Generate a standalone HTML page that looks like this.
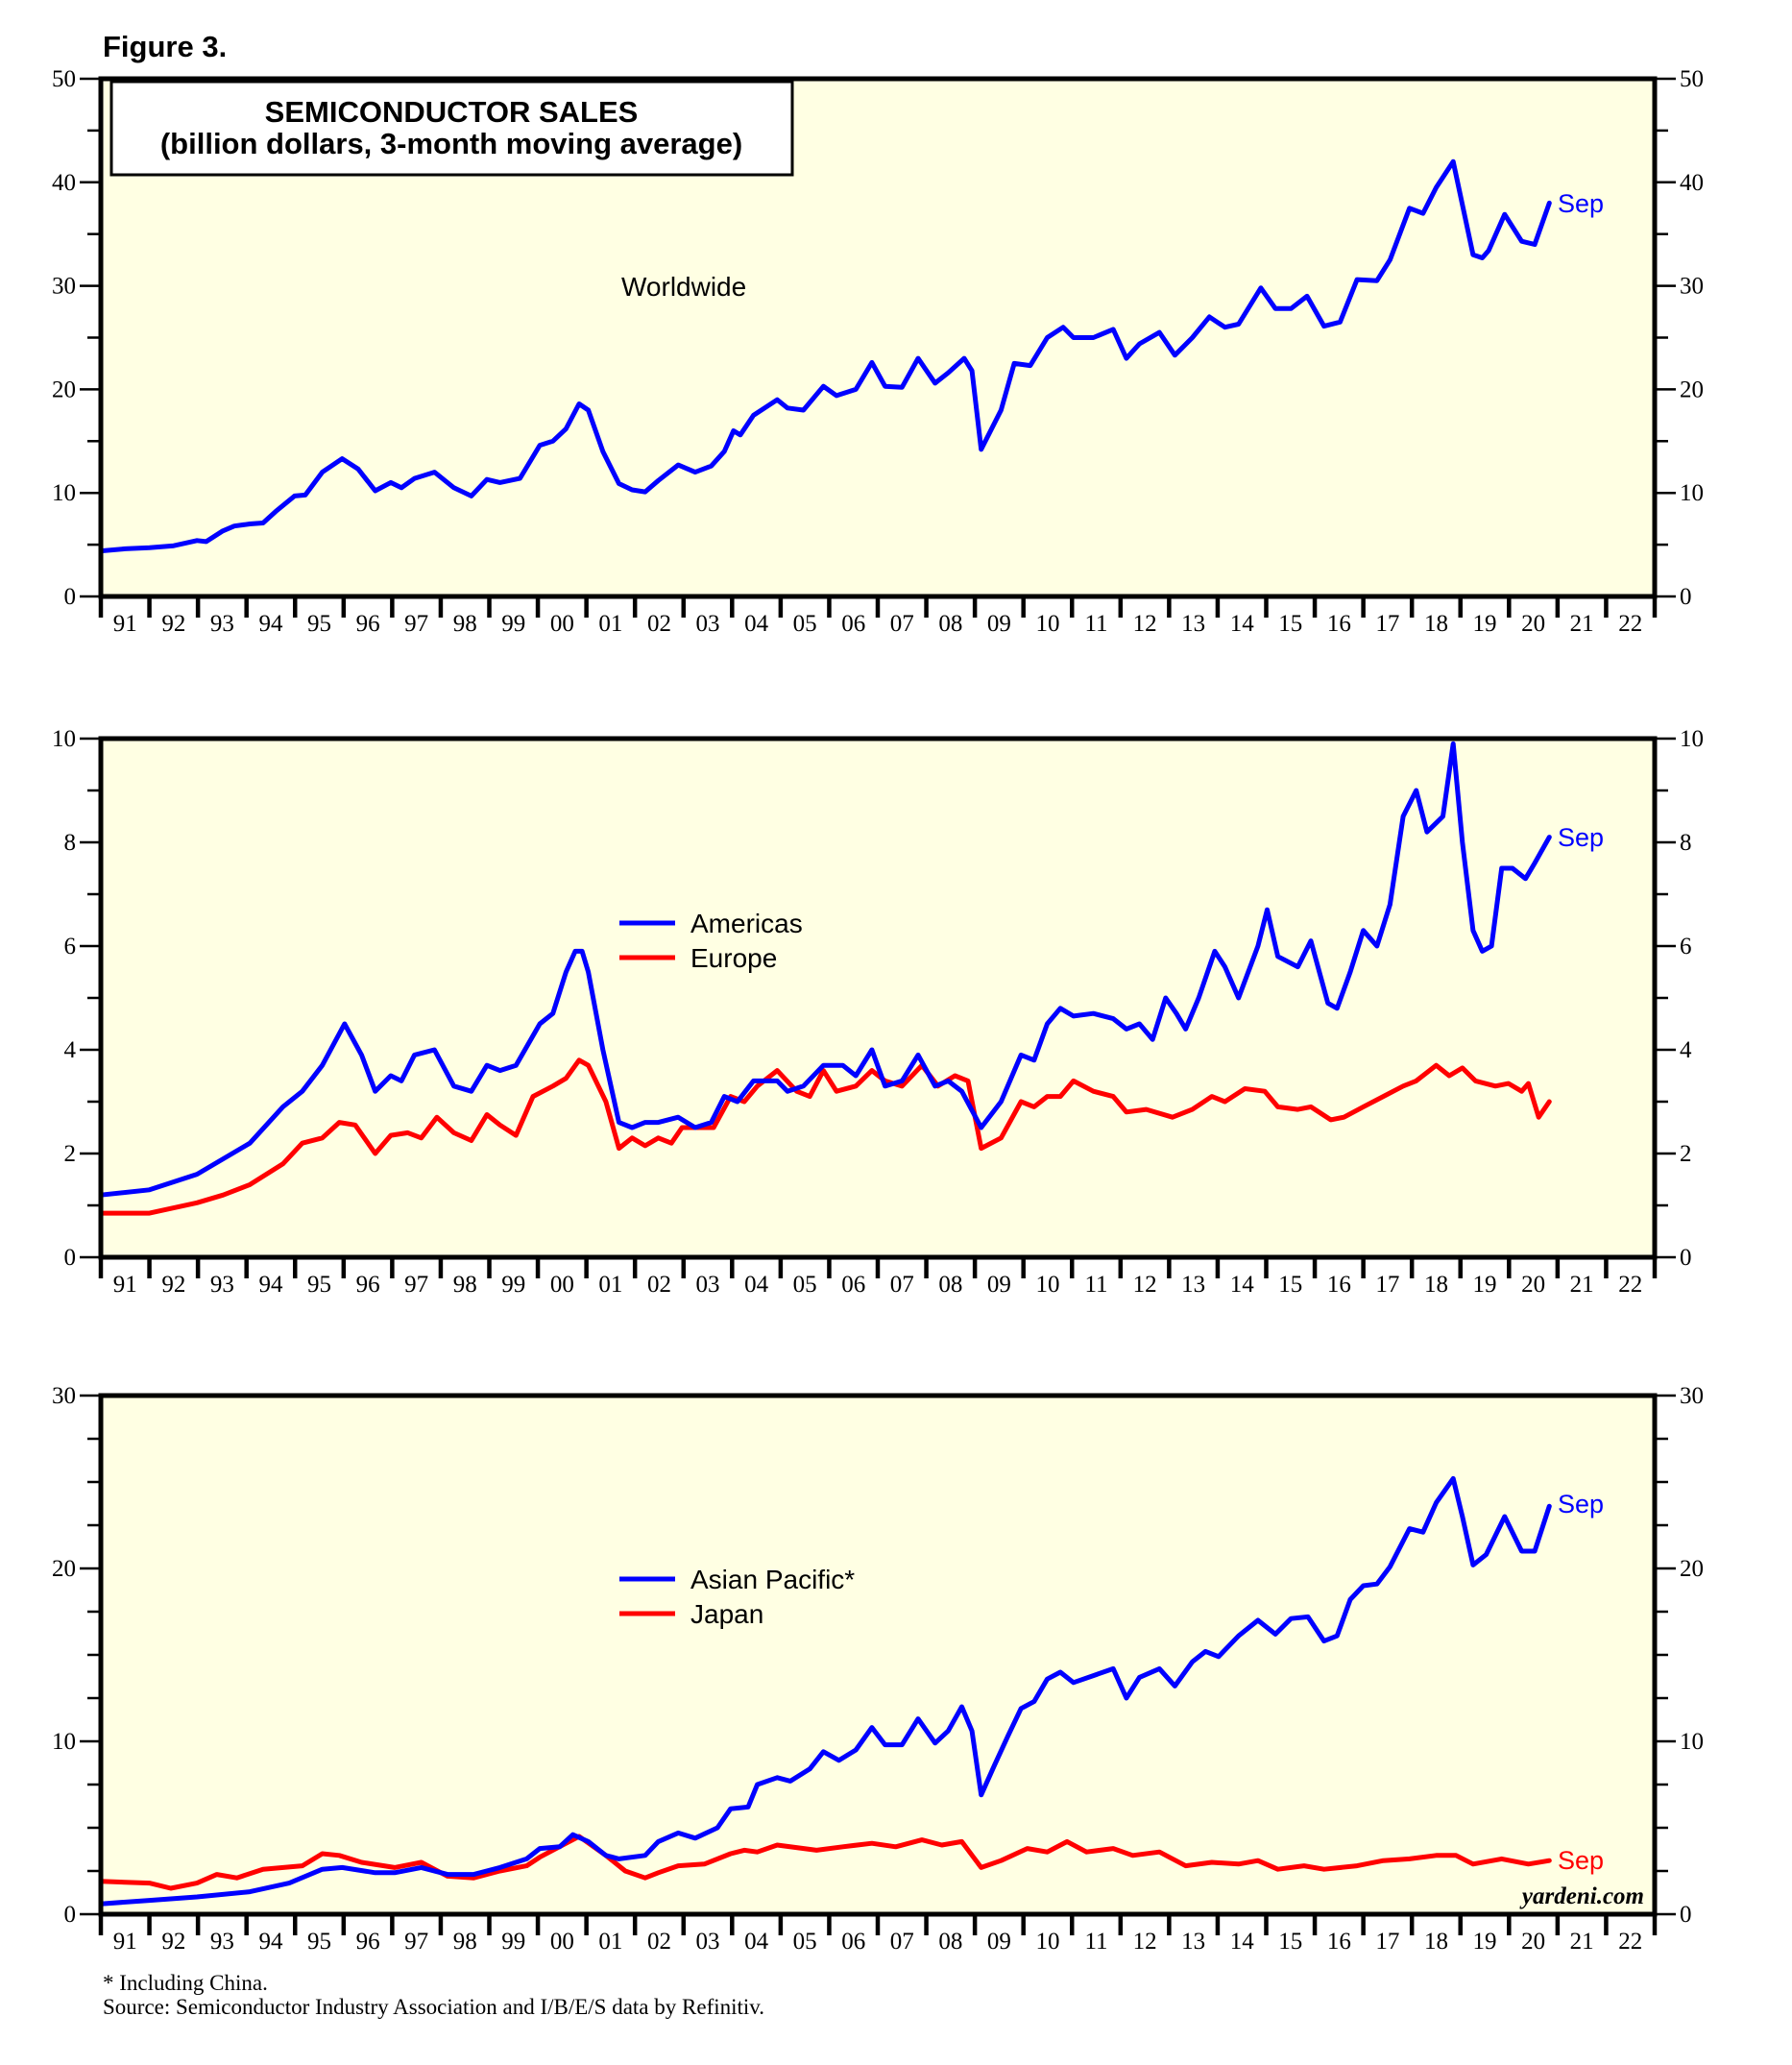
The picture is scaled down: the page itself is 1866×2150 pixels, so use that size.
<!DOCTYPE html>
<html><head><meta charset="utf-8"><style>
html,body{margin:0;padding:0;background:#fff;}
svg{display:block;}
.tk{font-family:"Liberation Serif",serif;font-size:25px;fill:#000;}
.sans{font-family:"Liberation Sans",sans-serif;}
</style></head><body>
<svg id="fig" width="1866" height="2150" viewBox="0 0 1866 2150" xmlns="http://www.w3.org/2000/svg">
<text x="107" y="59" class="sans" font-size="31" font-weight="bold">Figure 3.</text>
<g id="panels"></g>
<text x="107" y="2072" font-family="Liberation Serif,serif" font-size="23">* Including China.</text>
<text x="107" y="2097" font-family="Liberation Serif,serif" font-size="23">Source: Semiconductor Industry Association and I/B/E/S data by Refinitiv.</text>
</svg>
<script>
// Worldwide
const wwDates=[1991.00,1991.5,1992.00,1992.5,1992.98,1993.17,1993.5,1993.75,1994.07,1994.34,1994.6,1994.99,1995.21,1995.56,1995.97,1996.3,1996.65,1996.97,1997.19,1997.46,1997.87,1998.27,1998.63,1998.95,1999.22,1999.63,2000.04,2000.31,2000.58,2000.85,2001.04,2001.34,2001.67,2001.94,2002.21,2002.48,2002.89,2003.24,2003.57,2003.84,2004.03,2004.17,2004.44,2004.93,2005.14,2005.47,2005.88,2006.15,2006.55,2006.88,2007.15,2007.50,2007.83,2008.18,2008.45,2008.78,2008.94,2009.13,2009.54,2009.81,2010.14,2010.49,2010.82,2011.03,2011.44,2011.85,2012.12,2012.39,2012.80,2013.12,2013.48,2013.83,2014.15,2014.43,2014.89,2015.19,2015.51,2015.84,2016.19,2016.52,2016.87,2017.28,2017.55,2017.95,2018.23,2018.50,2018.85,2019.26,2019.45,2019.58,2019.91,2020.26,2020.53,2020.83];
const wwValues=[4.4,4.6,4.7,4.9,5.4,5.3,6.3,6.8,7.0,7.1,8.2,9.7,9.8,12.0,13.3,12.3,10.2,11.0,10.5,11.4,12.0,10.5,9.7,11.3,11.0,11.4,14.6,15.0,16.2,18.6,18.0,14.0,10.9,10.3,10.1,11.2,12.7,12.0,12.6,14.0,16.0,15.6,17.5,19.0,18.2,18.0,20.3,19.4,20.0,22.6,20.3,20.2,23.0,20.6,21.6,23.0,21.8,14.2,18.0,22.5,22.3,25.0,26.0,25.0,25.0,25.8,23.0,24.4,25.5,23.3,25.0,27.0,26.0,26.3,29.8,27.8,27.8,29.0,26.1,26.5,30.6,30.5,32.5,37.5,37.0,39.5,42.0,33.0,32.7,33.4,36.9,34.3,34.0,38.0];
// Americas
const amDates=[1991.00,1992.00,1992.98,1994.07,1994.75,1995.15,1995.56,1996.02,1996.37,1996.65,1996.97,1997.19,1997.46,1997.87,1998.27,1998.63,1998.95,1999.22,1999.55,2000.04,2000.31,2000.58,2000.77,2000.91,2001.04,2001.34,2001.67,2001.94,2002.21,2002.48,2002.89,2003.24,2003.57,2003.84,2004.11,2004.44,2004.93,2005.14,2005.47,2005.88,2006.28,2006.55,2006.88,2007.15,2007.50,2007.83,2008.18,2008.45,2008.73,2009.13,2009.54,2009.95,2010.22,2010.49,2010.76,2011.03,2011.44,2011.85,2012.12,2012.39,2012.66,2012.93,2013.15,2013.34,2013.61,2013.94,2014.15,2014.43,2014.83,2015.02,2015.24,2015.65,2015.92,2016.27,2016.46,2016.73,2017.00,2017.28,2017.55,2017.82,2018.09,2018.31,2018.64,2018.85,2019.04,2019.26,2019.45,2019.64,2019.85,2020.07,2020.34,2020.53,2020.83];
const amValues=[1.2,1.3,1.6,2.2,2.9,3.2,3.7,4.5,3.9,3.2,3.5,3.4,3.9,4.0,3.3,3.2,3.7,3.6,3.7,4.5,4.7,5.5,5.9,5.9,5.5,4.0,2.6,2.5,2.6,2.6,2.7,2.5,2.6,3.1,3.0,3.4,3.4,3.2,3.3,3.7,3.7,3.5,4.0,3.3,3.4,3.9,3.3,3.4,3.2,2.5,3.0,3.9,3.8,4.5,4.8,4.65,4.7,4.6,4.4,4.5,4.2,5.0,4.7,4.4,5.0,5.9,5.6,5.0,6.0,6.7,5.8,5.6,6.1,4.9,4.8,5.5,6.3,6.0,6.8,8.5,9.0,8.2,8.5,9.9,8.0,6.3,5.9,6.0,7.5,7.5,7.3,7.6,8.1];
// Europe
const euDates=[1991.00,1992.00,1992.98,1993.52,1994.07,1994.75,1995.15,1995.56,1995.91,1996.24,1996.65,1996.97,1997.32,1997.60,1997.92,1998.27,1998.63,1998.95,1999.22,1999.55,1999.90,2000.31,2000.58,2000.85,2001.04,2001.40,2001.67,2001.94,2002.21,2002.48,2002.75,2002.97,2003.30,2003.62,2003.97,2004.25,2004.52,2004.93,2005.33,2005.60,2005.88,2006.15,2006.55,2006.88,2007.15,2007.50,2007.91,2008.24,2008.59,2008.86,2009.13,2009.54,2009.95,2010.22,2010.49,2010.76,2011.03,2011.44,2011.85,2012.12,2012.53,2013.07,2013.48,2013.88,2014.15,2014.56,2014.97,2015.24,2015.65,2015.92,2016.33,2016.60,2017.00,2017.41,2017.82,2018.09,2018.50,2018.77,2019.04,2019.31,2019.72,2019.99,2020.26,2020.40,2020.61,2020.83];
const euValues=[0.85,0.85,1.05,1.2,1.4,1.8,2.2,2.3,2.6,2.55,2.0,2.35,2.4,2.3,2.7,2.4,2.25,2.75,2.55,2.35,3.1,3.3,3.45,3.8,3.7,3.0,2.1,2.3,2.15,2.3,2.2,2.5,2.5,2.5,3.1,3.0,3.3,3.6,3.2,3.1,3.6,3.2,3.3,3.6,3.4,3.3,3.7,3.3,3.5,3.4,2.1,2.3,3.0,2.9,3.1,3.1,3.4,3.2,3.1,2.8,2.85,2.7,2.85,3.1,3.0,3.25,3.2,2.9,2.85,2.9,2.65,2.7,2.9,3.1,3.3,3.4,3.7,3.5,3.65,3.4,3.3,3.35,3.2,3.35,2.7,3.0];
// Asian Pacific
const apDates=[1991.00,1992.00,1992.98,1994.07,1994.88,1995.56,1995.97,1996.65,1997.05,1997.60,1998.14,1998.68,1999.22,1999.77,2000.04,2000.45,2000.72,2001.04,2001.40,2001.67,2002.21,2002.48,2002.89,2003.24,2003.70,2003.97,2004.33,2004.52,2004.93,2005.20,2005.60,2005.88,2006.20,2006.55,2006.88,2007.15,2007.50,2007.83,2008.18,2008.45,2008.73,2008.94,2009.13,2009.40,2009.68,2009.95,2010.22,2010.49,2010.76,2011.03,2011.44,2011.85,2012.12,2012.39,2012.80,2013.12,2013.48,2013.75,2014.02,2014.43,2014.83,2015.19,2015.51,2015.86,2016.19,2016.46,2016.73,2017.00,2017.28,2017.55,2017.95,2018.23,2018.50,2018.85,2019.04,2019.26,2019.53,2019.91,2020.26,2020.53,2020.83];
const apValues=[0.6,0.8,1.0,1.3,1.8,2.6,2.7,2.4,2.4,2.7,2.3,2.3,2.7,3.2,3.8,3.9,4.6,4.2,3.4,3.2,3.4,4.2,4.7,4.4,5.0,6.1,6.2,7.5,7.9,7.7,8.4,9.4,8.9,9.5,10.8,9.8,9.8,11.3,9.9,10.6,12.0,10.6,6.9,8.6,10.3,11.9,12.3,13.6,14.0,13.4,13.8,14.2,12.5,13.7,14.2,13.2,14.6,15.2,14.9,16.1,17.0,16.2,17.1,17.2,15.8,16.1,18.2,19.0,19.1,20.1,22.3,22.1,23.8,25.2,23.0,20.2,20.8,23.0,21.0,21.0,23.6];
// Japan
const jpDates=[1991.00,1992.00,1992.44,1992.98,1993.39,1993.80,1994.34,1995.15,1995.56,1995.91,1996.37,1997.05,1997.60,1998.14,1998.68,1999.22,1999.77,2000.04,2000.58,2000.85,2001.40,2001.80,2002.21,2002.48,2002.89,2003.43,2003.97,2004.25,2004.52,2004.93,2005.74,2006.28,2006.88,2007.37,2007.91,2008.32,2008.73,2009.13,2009.54,2010.08,2010.49,2010.90,2011.30,2011.85,2012.25,2012.80,2013.34,2013.88,2014.43,2014.83,2015.24,2015.78,2016.19,2016.87,2017.41,2017.95,2018.50,2018.91,2019.26,2019.85,2020.40,2020.83];
const jpValues=[1.9,1.8,1.5,1.8,2.3,2.1,2.6,2.8,3.5,3.4,3.0,2.7,3.0,2.2,2.1,2.5,2.8,3.3,4.1,4.5,3.4,2.5,2.1,2.4,2.8,2.9,3.5,3.7,3.6,4.0,3.7,3.9,4.1,3.9,4.3,4.0,4.2,2.7,3.1,3.8,3.6,4.2,3.6,3.8,3.4,3.6,2.8,3.0,2.9,3.1,2.6,2.8,2.6,2.8,3.1,3.2,3.4,3.4,2.9,3.2,2.9,3.1];
const yearLabels=["91","92","93","94","95","96","97","98","99","00","01","02","03","04","05","06","07","08","09","10","11","12","13","14","15","16","17","18","19","20","21","22"];

const NS="http://www.w3.org/2000/svg";
const root=document.getElementById('panels');
const L=105,R=1723,Y0=1991,Y1=2023;
const xS=y=>L+(y-Y0)/(Y1-Y0)*(R-L);
function mk(tag,attrs,parent){const e=document.createElementNS(NS,tag);for(const k in attrs)e.setAttribute(k,attrs[k]);(parent||root).appendChild(e);return e;}

function panel(name,top,bot,max,major,minor,series,legend,seps,extra){
  const g=mk('g',{});
  
  
  const yS=v=>bot-(v/max)*(bot-top);
  const bg=mk('rect',{x:L,y:top,width:R-L,height:bot-top,fill:'#ffffe3'},g);
  
  
  for(let v=0;v<=max+1e-9;v+=minor){
    const isMaj=Math.abs(v/major-Math.round(v/major))<1e-6;
    const len=isMaj?22:14;
    mk('line',{x1:L-len,x2:L,y1:yS(v),y2:yS(v),stroke:'#000','stroke-width':2.5},g);
    mk('line',{x1:R,x2:R+len,y1:yS(v),y2:yS(v),stroke:'#000','stroke-width':2.5},g);
    if(isMaj){
      const t1=mk('text',{x:L-26,y:yS(v)+8,'text-anchor':'end',class:'tk'},g);t1.textContent=String(Math.round(v));
      
      
      const t2=mk('text',{x:R+26,y:yS(v)+8,class:'tk'},g);t2.textContent=String(Math.round(v));
      
      
    }
  }
  for(let i=0;i<=yearLabels.length;i++){
    const x=xS(Y0+i);
    mk('line',{x1:x,x2:x,y1:bot,y2:bot+22,stroke:'#000','stroke-width':4.5},g);
    if(i<yearLabels.length){
      const t=mk('text',{x:xS(Y0+i+0.5),y:bot+36,'text-anchor':'middle',class:'tk'},g);t.textContent=yearLabels[i];
      
      
    }
  }
  if(extra)extra(g);
  series.forEach(s=>{
    const pts=s.d.map((d,i)=>xS(d).toFixed(1)+','+yS(s.v[i]).toFixed(1)).join(' ');
    const p=mk('polyline',{points:pts,fill:'none',stroke:s.c,'stroke-width':5,'stroke-linejoin':'round','stroke-linecap':'round'},g);
    
    
  });
  legend.forEach(l=>{
    mk('line',{x1:645,x2:703,y1:l.y,y2:l.y,stroke:l.c,'stroke-width':5},g);
    const t=mk('text',{x:719,y:l.y+10,class:'sans','font-size':28},g);t.textContent=l.t;
    
    
  });
  seps.forEach(s=>{
    const t=mk('text',{x:1622,y:s.y+9,class:'sans','font-size':27,fill:s.c},g);t.textContent='Sep';
    
    
  });
  const fr=mk('rect',{x:L,y:top,width:R-L,height:bot-top,fill:'none',stroke:'#000','stroke-width':5},g);
  
  
}

panel('worldwide-panel',82,621,50,10,5,[{d:wwDates,v:wwValues,c:'#0000ff',n:'worldwide-line'}],[],[{y:212,c:'#0000ff'}],g=>{
  const b=mk('rect',{x:116,y:85,width:709,height:97,fill:'#fff',stroke:'#000','stroke-width':3},g);
  
  
  const t1=mk('text',{x:470,y:127,'text-anchor':'middle',class:'sans','font-size':31,'font-weight':'bold'},g);t1.textContent='SEMICONDUCTOR SALES';
  
  
  const t2=mk('text',{x:470,y:160,'text-anchor':'middle',class:'sans','font-size':31,'font-weight':'bold'},g);t2.textContent='(billion dollars, 3-month moving average)';
  
  
  const w=mk('text',{x:647,y:308,class:'sans','font-size':28},g);w.textContent='Worldwide';
  
  
});
panel('americas-europe-panel',769,1309,10,2,1,[{d:euDates,v:euValues,c:'#ff0000',n:'europe-line'},{d:amDates,v:amValues,c:'#0000ff',n:'americas-line'}],[{y:961,c:'#0000ff',t:'Americas'},{y:997,c:'#ff0000',t:'Europe'}],[{y:872,c:'#0000ff'}]);
panel('asia-japan-panel',1453,1993,30,10,2.5,[{d:jpDates,v:jpValues,c:'#ff0000',n:'japan-line'},{d:apDates,v:apValues,c:'#0000ff',n:'asian-pacific-line'}],[{y:1644,c:'#0000ff',t:'Asian Pacific*'},{y:1680,c:'#ff0000',t:'Japan'}],[{y:1566,c:'#0000ff'},{y:1937,c:'#ff0000'}],g=>{
  const y=mk('text',{x:1712,y:1982,'text-anchor':'end','font-family':'Liberation Serif,serif','font-size':25,'font-weight':'bold','font-style':'italic'},g);y.textContent='yardeni.com';
  
  
});
</script>
</body></html>
